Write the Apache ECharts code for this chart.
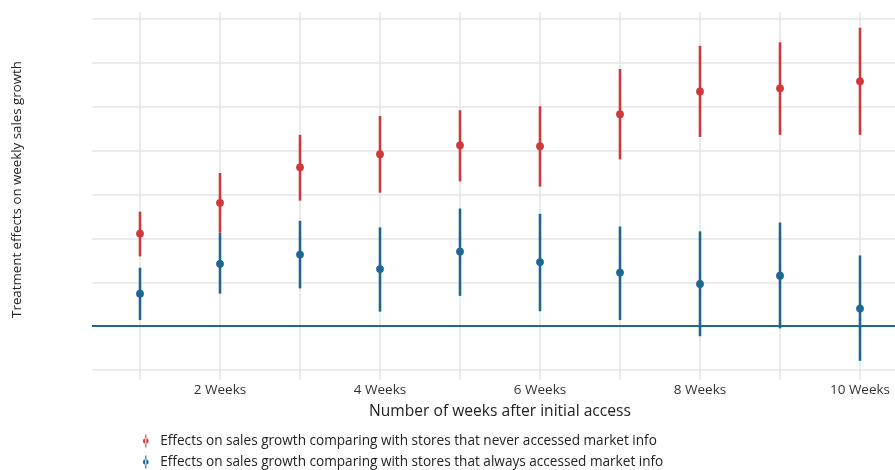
<!DOCTYPE html>
<html>
<head>
<meta charset="utf-8">
<script src="https://cdn.jsdelivr.net/npm/echarts@6/dist/echarts.min.js"></script>
<style>
  html, body { margin: 0; padding: 0; background: #ffffff; }
  #chart { width: 895px; height: 470px; }
</style>
</head>
<body>
<div id="chart"></div>
<script>
// Weeks after first access to the market-information service
const weeks = [1, 2, 3, 4, 5, 6, 7, 8, 9, 10];
const weekLabels = ['1 Week', '2 Weeks', '3 Weeks', '4 Weeks', '5 Weeks',
                    '6 Weeks', '7 Weeks', '8 Weeks', '9 Weeks', '10 Weeks'];

// Compared with stores that never accessed market info: estimate and interval bounds
const neverEst = [2.11, 2.81, 3.62, 3.92, 4.12, 4.10, 4.83, 5.35, 5.42, 5.58];
const neverLo  = [1.59, 2.13, 2.86, 3.04, 3.30, 3.18, 3.80, 4.31, 4.36, 4.36];
const neverHi  = [2.61, 3.49, 4.36, 4.79, 4.92, 5.01, 5.86, 6.39, 6.47, 6.80];

// Compared with stores that always accessed market info
const alwaysEst = [0.74, 1.42, 1.63, 1.30, 1.70, 1.46, 1.22, 0.96, 1.15, 0.40];
const alwaysLo  = [0.14, 0.74, 0.86, 0.33, 0.69, 0.34, 0.14, -0.23, -0.05, -0.79];
const alwaysHi  = [1.33, 2.13, 2.40, 2.25, 2.68, 2.56, 2.27, 2.16, 2.36, 1.61];

const seriesNames = [
  'Effects on sales growth comparing with stores that never accessed market info',
  'Effects on sales growth comparing with stores that always accessed market info'
];
const RED = '#d0393c';
const BLUE = '#1c6890';
const GRID = '#e6e6e6';
const FONT = '"Open Sans", "DejaVu Sans", sans-serif';

function rows(est, lo, hi) {
  return weeks.map((w, i) => [w, est[i], lo[i], hi[i]]);
}

// Point-range mark: vertical interval line plus a dot at the estimate
function pointRange(color) {
  return function (params, api) {
    const x = api.value(0);
    const c = api.coord([x, api.value(1)]);
    const lo = api.coord([x, api.value(2)]);
    const hi = api.coord([x, api.value(3)]);
    return {
      type: 'group',
      children: [
        { type: 'line', shape: { x1: lo[0], y1: lo[1], x2: hi[0], y2: hi[1] },
          style: { stroke: color, lineWidth: 2.6 } },
        { type: 'circle', shape: { cx: c[0], cy: c[1], r: 3.9 },
          style: { fill: color } }
      ]
    };
  };
}

const legendIcon = 'path://M4.4,0 L5.6,0 L5.6,14 L4.4,14 Z M2,7 A3,3 0 1,0 8,7 A3,3 0 1,0 2,7 Z';

const option = {
  backgroundColor: '#ffffff',
  animation: false,
  textStyle: { fontFamily: FONT },
  grid: [
    // panel for the estimates and horizontal grid lines
    { left: 92, right: 0, top: 19, bottom: 100 },
    // panel for the week grid lines and week labels
    { left: 140, right: 35, top: 12, bottom: 90 }
  ],
  xAxis: [
    { type: 'value', gridIndex: 0, min: 0.4, max: 10.4375, show: false },
    {
      type: 'category', gridIndex: 1, data: weekLabels, boundaryGap: false,
      axisLine: { show: false }, axisTick: { show: false },
      axisLabel: {
        interval: (i) => i % 2 === 1,
        color: '#333', fontSize: 13.5, margin: 3, fontFamily: FONT
      },
      splitLine: { show: true, interval: 0, lineStyle: { color: GRID, width: 1.6 } },
      name: 'Number of weeks after initial access',
      nameLocation: 'middle', nameGap: 24,
      nameTextStyle: { color: '#222', fontSize: 15.6, fontFamily: FONT }
    }
  ],
  yAxis: [
    {
      type: 'value', gridIndex: 0, min: -1, max: 7, interval: 1,
      axisLine: { show: false }, axisTick: { show: false },
      axisLabel: { show: false },
      splitLine: { show: true, lineStyle: { color: GRID, width: 1.6 } },
      name: 'Treatment effects on weekly sales growth',
      nameLocation: 'middle', nameRotate: 90, nameGap: 68,
      nameTextStyle: { color: '#222', fontSize: 13.3, fontFamily: FONT, padding: [0, 0, 0, 10] }
    },
    { type: 'value', gridIndex: 1, min: 0, max: 1, show: false }
  ],
  legend: {
    orient: 'vertical', left: 143, top: 433, padding: 0, itemGap: 5,
    itemWidth: 9, itemHeight: 13,
    textStyle: { color: '#222', fontSize: 13.6, lineHeight: 16, fontFamily: FONT, padding: [0, 0, 0, 5] },
    data: [
      { name: seriesNames[0], icon: legendIcon, itemStyle: { color: RED } },
      { name: seriesNames[1], icon: legendIcon, itemStyle: { color: BLUE } }
    ]
  },
  series: [
    {
      name: seriesNames[1], type: 'custom', xAxisIndex: 0, yAxisIndex: 0,
      renderItem: pointRange(BLUE), itemStyle: { color: BLUE },
      encode: { x: 0, y: [1, 2, 3] },
      data: rows(alwaysEst, alwaysLo, alwaysHi),
      markLine: {
        silent: true, symbol: ['none', 'none'], label: { show: false },
        lineStyle: { color: BLUE, width: 2, type: 'solid' },
        data: [{ yAxis: 0 }]
      },
      z: 3
    },
    {
      name: seriesNames[0], type: 'custom', xAxisIndex: 0, yAxisIndex: 0,
      renderItem: pointRange(RED), itemStyle: { color: RED },
      encode: { x: 0, y: [1, 2, 3] },
      data: rows(neverEst, neverLo, neverHi),
      z: 3
    }
  ]
};

echarts.init(document.getElementById('chart')).setOption(option);
</script>
</body>
</html>
